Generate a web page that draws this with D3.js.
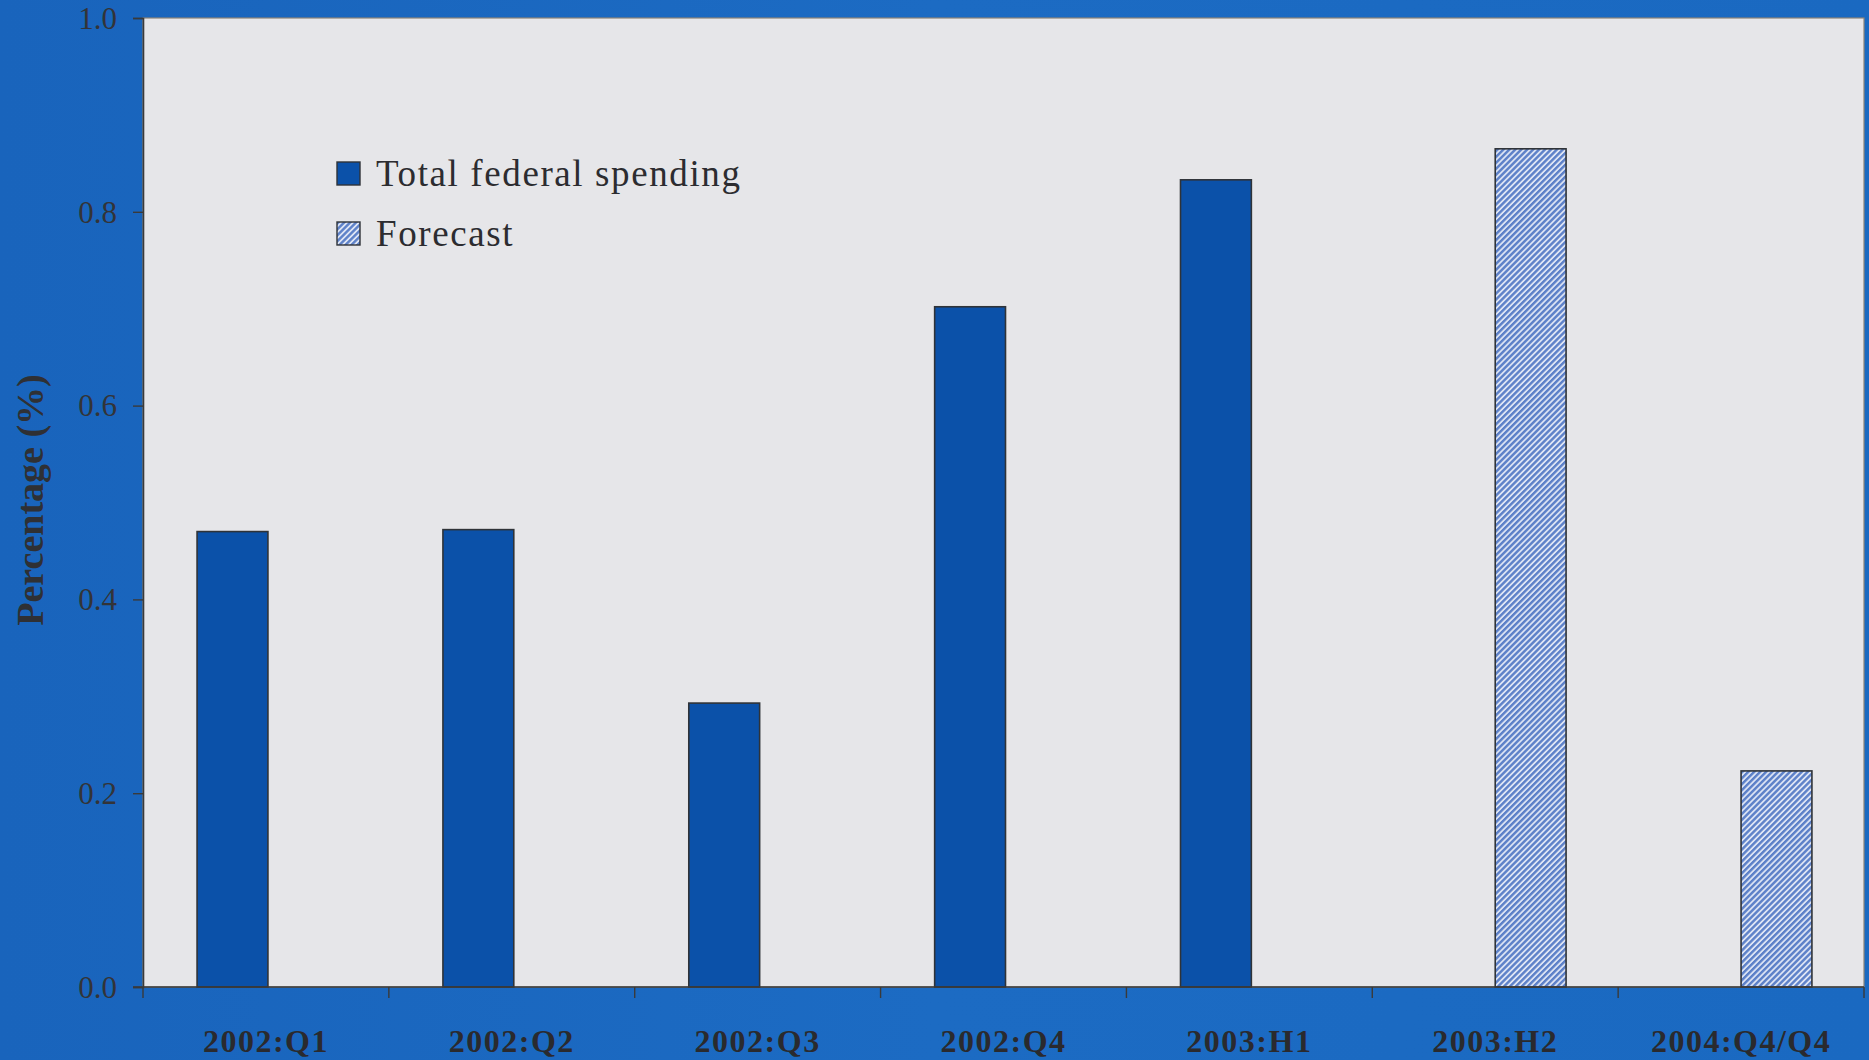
<!DOCTYPE html>
<html>
<head>
<meta charset="utf-8">
<script src="https://cdn.jsdelivr.net/npm/d3@7"></script>
<style>
  html, body { margin: 0; padding: 0; background: #1b6bc3; }
  svg { display: block; }
</style>
</head>
<body>
<svg id="chart" width="1869" height="1060"></svg>
<script>
// Growth of total federal spending, with forecast periods
const categories = ["2002:Q1", "2002:Q2", "2002:Q3", "2002:Q4", "2003:H1", "2003:H2", "2004:Q4/Q4"];
const series = ["Total federal spending", "Forecast"];
const spendingValues = [0.470, 0.472, 0.293, 0.702, 0.833, null, null];
const forecastValues = [null, null, null, null, null, 0.865, 0.223];
const yTicks = [0.0, 0.2, 0.4, 0.6, 0.8, 1.0];
const yTitle = "Percentage (%)";

const W = 1869, H = 1060;
const plot = { left: 143, right: 1864, top: 18, bottom: 987 };
const serif = "'Liberation Serif', 'Times New Roman', serif";

const svg = d3.select("#chart");

// Page background with a slight darker band on the left
const defs = svg.append("defs");
const bg = defs.append("linearGradient").attr("id", "bgGrad").attr("x1", 0).attr("x2", 1).attr("y1", 0).attr("y2", 0);
bg.append("stop").attr("offset", "0").attr("stop-color", "#1964bc");
bg.append("stop").attr("offset", "0.5").attr("stop-color", "#1c6bc3");
bg.append("stop").attr("offset", "1").attr("stop-color", "#1a69c1");
svg.append("rect").attr("width", W).attr("height", H).attr("fill", "url(#bgGrad)");

// Hatched fill for forecast bars
const hatch = defs.append("pattern")
  .attr("id", "hatch")
  .attr("patternUnits", "userSpaceOnUse")
  .attr("width", 4.2).attr("height", 4.2)
  .attr("patternTransform", "rotate(45)");
hatch.append("rect").attr("width", 4.2).attr("height", 4.2).attr("fill", "#dde4f4");
hatch.append("rect").attr("width", 2.4).attr("height", 4.2).attr("fill", "#5c80c8");

const x = d3.scaleBand().domain(categories).range([plot.left, plot.right]).paddingInner(0).paddingOuter(0);
const inner = d3.scaleBand().domain(series).range([0, x.bandwidth()]).paddingInner(0).paddingOuter(0.735);
const y = d3.scaleLinear().domain([0, 1]).range([plot.bottom, plot.top]);

// Plot area
svg.append("rect")
  .attr("x", plot.left).attr("y", plot.top)
  .attr("width", plot.right - plot.left).attr("height", plot.bottom - plot.top)
  .attr("fill", "#e6e6e9")
  .attr("stroke", "#8c8478").attr("stroke-width", 1.2);

// Bars
const rows = categories.map((c, i) => ({ c, actual: spendingValues[i], forecast: forecastValues[i] }));
const g = svg.append("g");

g.selectAll("rect.actual")
  .data(rows.filter(d => d.actual != null))
  .join("rect")
  .attr("class", "actual")
  .attr("x", d => x(d.c) + inner(series[0]) + 2)
  .attr("width", inner.bandwidth())
  .attr("y", d => y(d.actual))
  .attr("height", d => y(0) - y(d.actual))
  .attr("fill", "#0b51a9")
  .attr("stroke", "#2f3338").attr("stroke-width", 1.6);

g.selectAll("rect.forecast")
  .data(rows.filter(d => d.forecast != null))
  .join("rect")
  .attr("class", "forecast")
  .attr("x", d => x(d.c) + inner(series[1]))
  .attr("width", inner.bandwidth())
  .attr("y", d => y(d.forecast))
  .attr("height", d => y(0) - y(d.forecast))
  .attr("fill", "url(#hatch)")
  .attr("stroke", "#2f3338").attr("stroke-width", 1.6);

// Y axis
const yAxis = svg.append("g")
  .attr("transform", `translate(${plot.left},0)`)
  .call(d3.axisLeft(y).tickValues(yTicks).tickFormat(d3.format(".1f")).tickSize(10).tickPadding(16));
yAxis.select(".domain").attr("stroke", "#3a3a3a").attr("stroke-width", 1.6);
yAxis.selectAll(".tick line").attr("stroke", "#3a3a3a").attr("stroke-width", 1.4);
yAxis.selectAll(".tick text")
  .attr("font-family", serif)
  .attr("font-size", 31)
  .attr("fill", "#333438")
  .attr("dy", "0.33em");

// X axis: baseline plus ticks at category boundaries
const xAxis = svg.append("g").attr("transform", `translate(0,${plot.bottom})`);
xAxis.append("line")
  .attr("x1", plot.left - 10).attr("x2", plot.right)
  .attr("y1", 0).attr("y2", 0)
  .attr("stroke", "#3a3a3a").attr("stroke-width", 1.6);
const bounds = categories.map(c => x(c)).concat([x.range()[1]]);
xAxis.selectAll("line.tick")
  .data(bounds)
  .join("line")
  .attr("class", "tick")
  .attr("x1", d => d).attr("x2", d => d)
  .attr("y1", 0).attr("y2", 11)
  .attr("stroke", "#3a3a3a").attr("stroke-width", 1.4);
xAxis.selectAll("text")
  .data(categories)
  .join("text")
  .attr("x", d => x(d) + x.bandwidth() / 2)
  .attr("y", 65)
  .attr("text-anchor", "middle")
  .attr("font-family", serif)
  .attr("font-weight", "bold")
  .attr("font-size", 32)
  .attr("letter-spacing", 1.5)
  .attr("fill", "#2a2a2e")
  .text(d => d);

// Y axis title
svg.append("text")
  .attr("transform", `translate(43,500) rotate(-90)`)
  .attr("text-anchor", "middle")
  .attr("font-family", serif)
  .attr("font-weight", "bold")
  .attr("font-size", 38)
  .attr("fill", "#2f3034")
  .text(yTitle);

// Legend
const legend = svg.append("g").attr("transform", "translate(337,162)");
const legendFills = ["#0b51a9", "url(#hatch)"];
const item = legend.selectAll("g")
  .data(series)
  .join("g")
  .attr("transform", (d, i) => `translate(0,${i * 60})`);
item.append("rect")
  .attr("width", 23).attr("height", 23)
  .attr("fill", (d, i) => legendFills[i])
  .attr("stroke", "#2f3338").attr("stroke-width", 1.4);
item.append("text")
  .attr("x", 39).attr("y", 24)
  .attr("font-family", serif)
  .attr("font-size", 37)
  .attr("letter-spacing", 1.6)
  .attr("fill", "#2c2c30")
  .text(d => d);
</script>
</body>
</html>
